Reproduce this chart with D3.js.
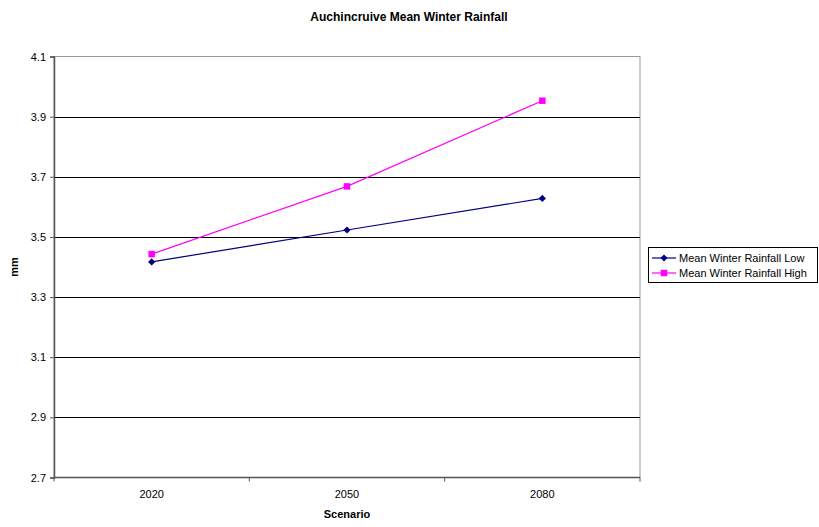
<!DOCTYPE html>
<html>
<head>
<meta charset="utf-8">
<script src="https://cdn.jsdelivr.net/npm/d3@7"></script>
<style>
  body { margin: 0; background: #fff; }
  text { font-family: Arial, "Liberation Sans", sans-serif; }
</style>
</head>
<body>
<svg id="chart" width="819" height="527"></svg>
<script>
// data
const scenarios = ['2020', '2050', '2080'];
const rainfallLow = [3.417, 3.523, 3.628];
const rainfallHigh = [3.443, 3.668, 3.953];
const yTicks = [2.7, 2.9, 3.1, 3.3, 3.5, 3.7, 3.9, 4.1];

const svg = d3.select('#chart');
const plot = { left: 54, top: 56.5, right: 640, bottom: 477.5 };

const x = d3.scaleBand().domain(scenarios).range([plot.left, plot.right]);
const y = d3.scaleLinear().domain([2.7, 4.1]).range([plot.bottom, plot.top]);

// title
svg.append('text')
  .attr('x', 409).attr('y', 21)
  .attr('text-anchor', 'middle')
  .style('font-size', '12px').style('font-weight', 'bold')
  .text('Auchincruive Mean Winter Rainfall');

// plot border (gray)
svg.append('rect')
  .attr('x', plot.left).attr('y', plot.top)
  .attr('width', plot.right - plot.left).attr('height', plot.bottom - plot.top)
  .attr('fill', '#fff').attr('stroke', '#999').attr('stroke-width', 1);

// gridlines
svg.append('g')
  .selectAll('line')
  .data(yTicks.slice(1, -1))
  .enter()
  .append('line')
  .attr('x1', plot.left).attr('x2', plot.right)
  .attr('y1', d => Math.round(y(d)) + 0.5).attr('y2', d => Math.round(y(d)) + 0.5)
  .attr('stroke', '#000').attr('stroke-width', 1);

// y axis
const yAxis = svg.append('g')
  .attr('transform', 'translate(' + plot.left + ',0)')
  .call(d3.axisLeft(y).tickValues(yTicks).tickFormat(d3.format('.1f')).tickSize(4).tickPadding(4));
yAxis.select('.domain').attr('stroke', '#555').attr('stroke-width', 1.5);
yAxis.selectAll('.tick line').attr('stroke', '#555');
yAxis.selectAll('text').style('font-size', '11px').attr('fill', '#000');

// x axis, ticks at band boundaries
const xAxis = svg.append('g')
  .attr('transform', 'translate(0,' + plot.bottom + ')');
xAxis.append('line')
  .attr('x1', plot.left).attr('x2', plot.right)
  .attr('stroke', '#555').attr('stroke-width', 1.5);
xAxis.selectAll('.xtick')
  .data(scenarios.concat(['end']))
  .enter()
  .append('line')
  .attr('class', 'xtick')
  .attr('x1', (d, i) => plot.left + i * x.bandwidth())
  .attr('x2', (d, i) => plot.left + i * x.bandwidth())
  .attr('y1', 0).attr('y2', 4)
  .attr('stroke', '#555');
xAxis.selectAll('.xlabel')
  .data(scenarios)
  .enter()
  .append('text')
  .attr('x', d => x(d) + x.bandwidth() / 2)
  .attr('y', 20)
  .attr('text-anchor', 'middle')
  .style('font-size', '11px')
  .text(d => d);

// axis titles
svg.append('text')
  .attr('x', x('2050') + x.bandwidth() / 2).attr('y', 518)
  .attr('text-anchor', 'middle')
  .style('font-size', '11px').style('font-weight', 'bold')
  .text('Scenario');
svg.append('text')
  .attr('transform', 'translate(18,' + (plot.top + plot.bottom) / 2 + ') rotate(-90)')
  .attr('text-anchor', 'middle')
  .style('font-size', '11px').style('font-weight', 'bold')
  .text('mm');

const cx = d => x(d) + x.bandwidth() / 2;
const line = d3.line().x(d => cx(d.k)).y(d => y(d.v));

// the low series uses a square turned 45 degrees (Excel-style diamond)
const series = [
  { name: 'Mean Winter Rainfall Low', values: rainfallLow, color: '#000080', shape: d3.symbolSquare, size: 26, rot: 45 },
  { name: 'Mean Winter Rainfall High', values: rainfallHigh, color: '#ff00ff', shape: d3.symbolSquare, size: 42, rot: 0 }
];

series.forEach(function(s) {
  const pts = scenarios.map((k, i) => ({ k: k, v: s.values[i] }));
  svg.append('path')
    .datum(pts)
    .attr('d', line)
    .attr('fill', 'none')
    .attr('stroke', s.color)
    .attr('stroke-width', 1.2);
  svg.append('g')
    .selectAll('path')
    .data(pts)
    .enter()
    .append('path')
    .attr('transform', d => 'translate(' + cx(d.k) + ',' + y(d.v) + ') rotate(' + s.rot + ')')
    .attr('d', d3.symbol().type(s.shape).size(s.size))
    .attr('fill', s.color);
});

// legend
const legend = svg.append('g').attr('transform', 'translate(648,247)');
legend.append('rect')
  .attr('x', 0.5).attr('y', 0.5)
  .attr('width', 169).attr('height', 35)
  .attr('fill', '#fff').attr('stroke', '#000');
series.forEach(function(s, i) {
  const ly = 11 + i * 15;
  legend.append('line')
    .attr('x1', 4).attr('x2', 28)
    .attr('y1', ly).attr('y2', ly)
    .attr('stroke', s.color).attr('stroke-width', 1.2);
  legend.append('path')
    .attr('transform', 'translate(16,' + ly + ') rotate(' + s.rot + ')')
    .attr('d', d3.symbol().type(s.shape).size(s.size))
    .attr('fill', s.color);
  legend.append('text')
    .attr('x', 31).attr('y', ly + 4)
    .style('font-size', '11px')
    .text(s.name);
});
</script>
</body>
</html>
